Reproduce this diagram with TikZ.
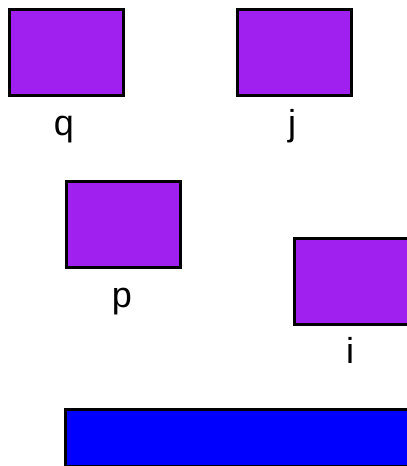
\documentclass[tikz,border=0pt]{standalone}
\usepackage{fontspec}
\setmainfont{Liberation Sans}
\definecolor{boxpurple}{HTML}{A020F0}
\begin{document}
\begin{tikzpicture}[x=1pt,y=-1pt,
  pbox/.style={draw=black,line width=2.5pt,fill=boxpurple,rectangle,inner sep=0pt,minimum width=114pt,minimum height=86pt,anchor=north west},
  bbox/.style={draw=black,line width=2.5pt,fill=blue,rectangle,inner sep=0pt,anchor=north west},
  lbl/.style={font=\fontsize{36}{40}\selectfont,anchor=base,inner sep=0pt}]
\useasboundingbox (0,0) rectangle (407,466);
\clip (0,0) rectangle (407,466);
\node[pbox] (q) at (8,8) {};
\node[pbox] (j) at (236,8) {};
\node[pbox] (p) at (65,180) {};
\node[pbox] (i) at (293,237) {};
\node[bbox,minimum width=360pt,minimum height=57pt] (bar) at (64,408) {};
\node[lbl] (lq) at (64,135) {q};
\node[lbl] (lj) at (292,135) {j};
\node[lbl] (lp) at (122,307) {p};
\node[lbl] (li) at (350,363) {i};
\end{tikzpicture}
\end{document}
